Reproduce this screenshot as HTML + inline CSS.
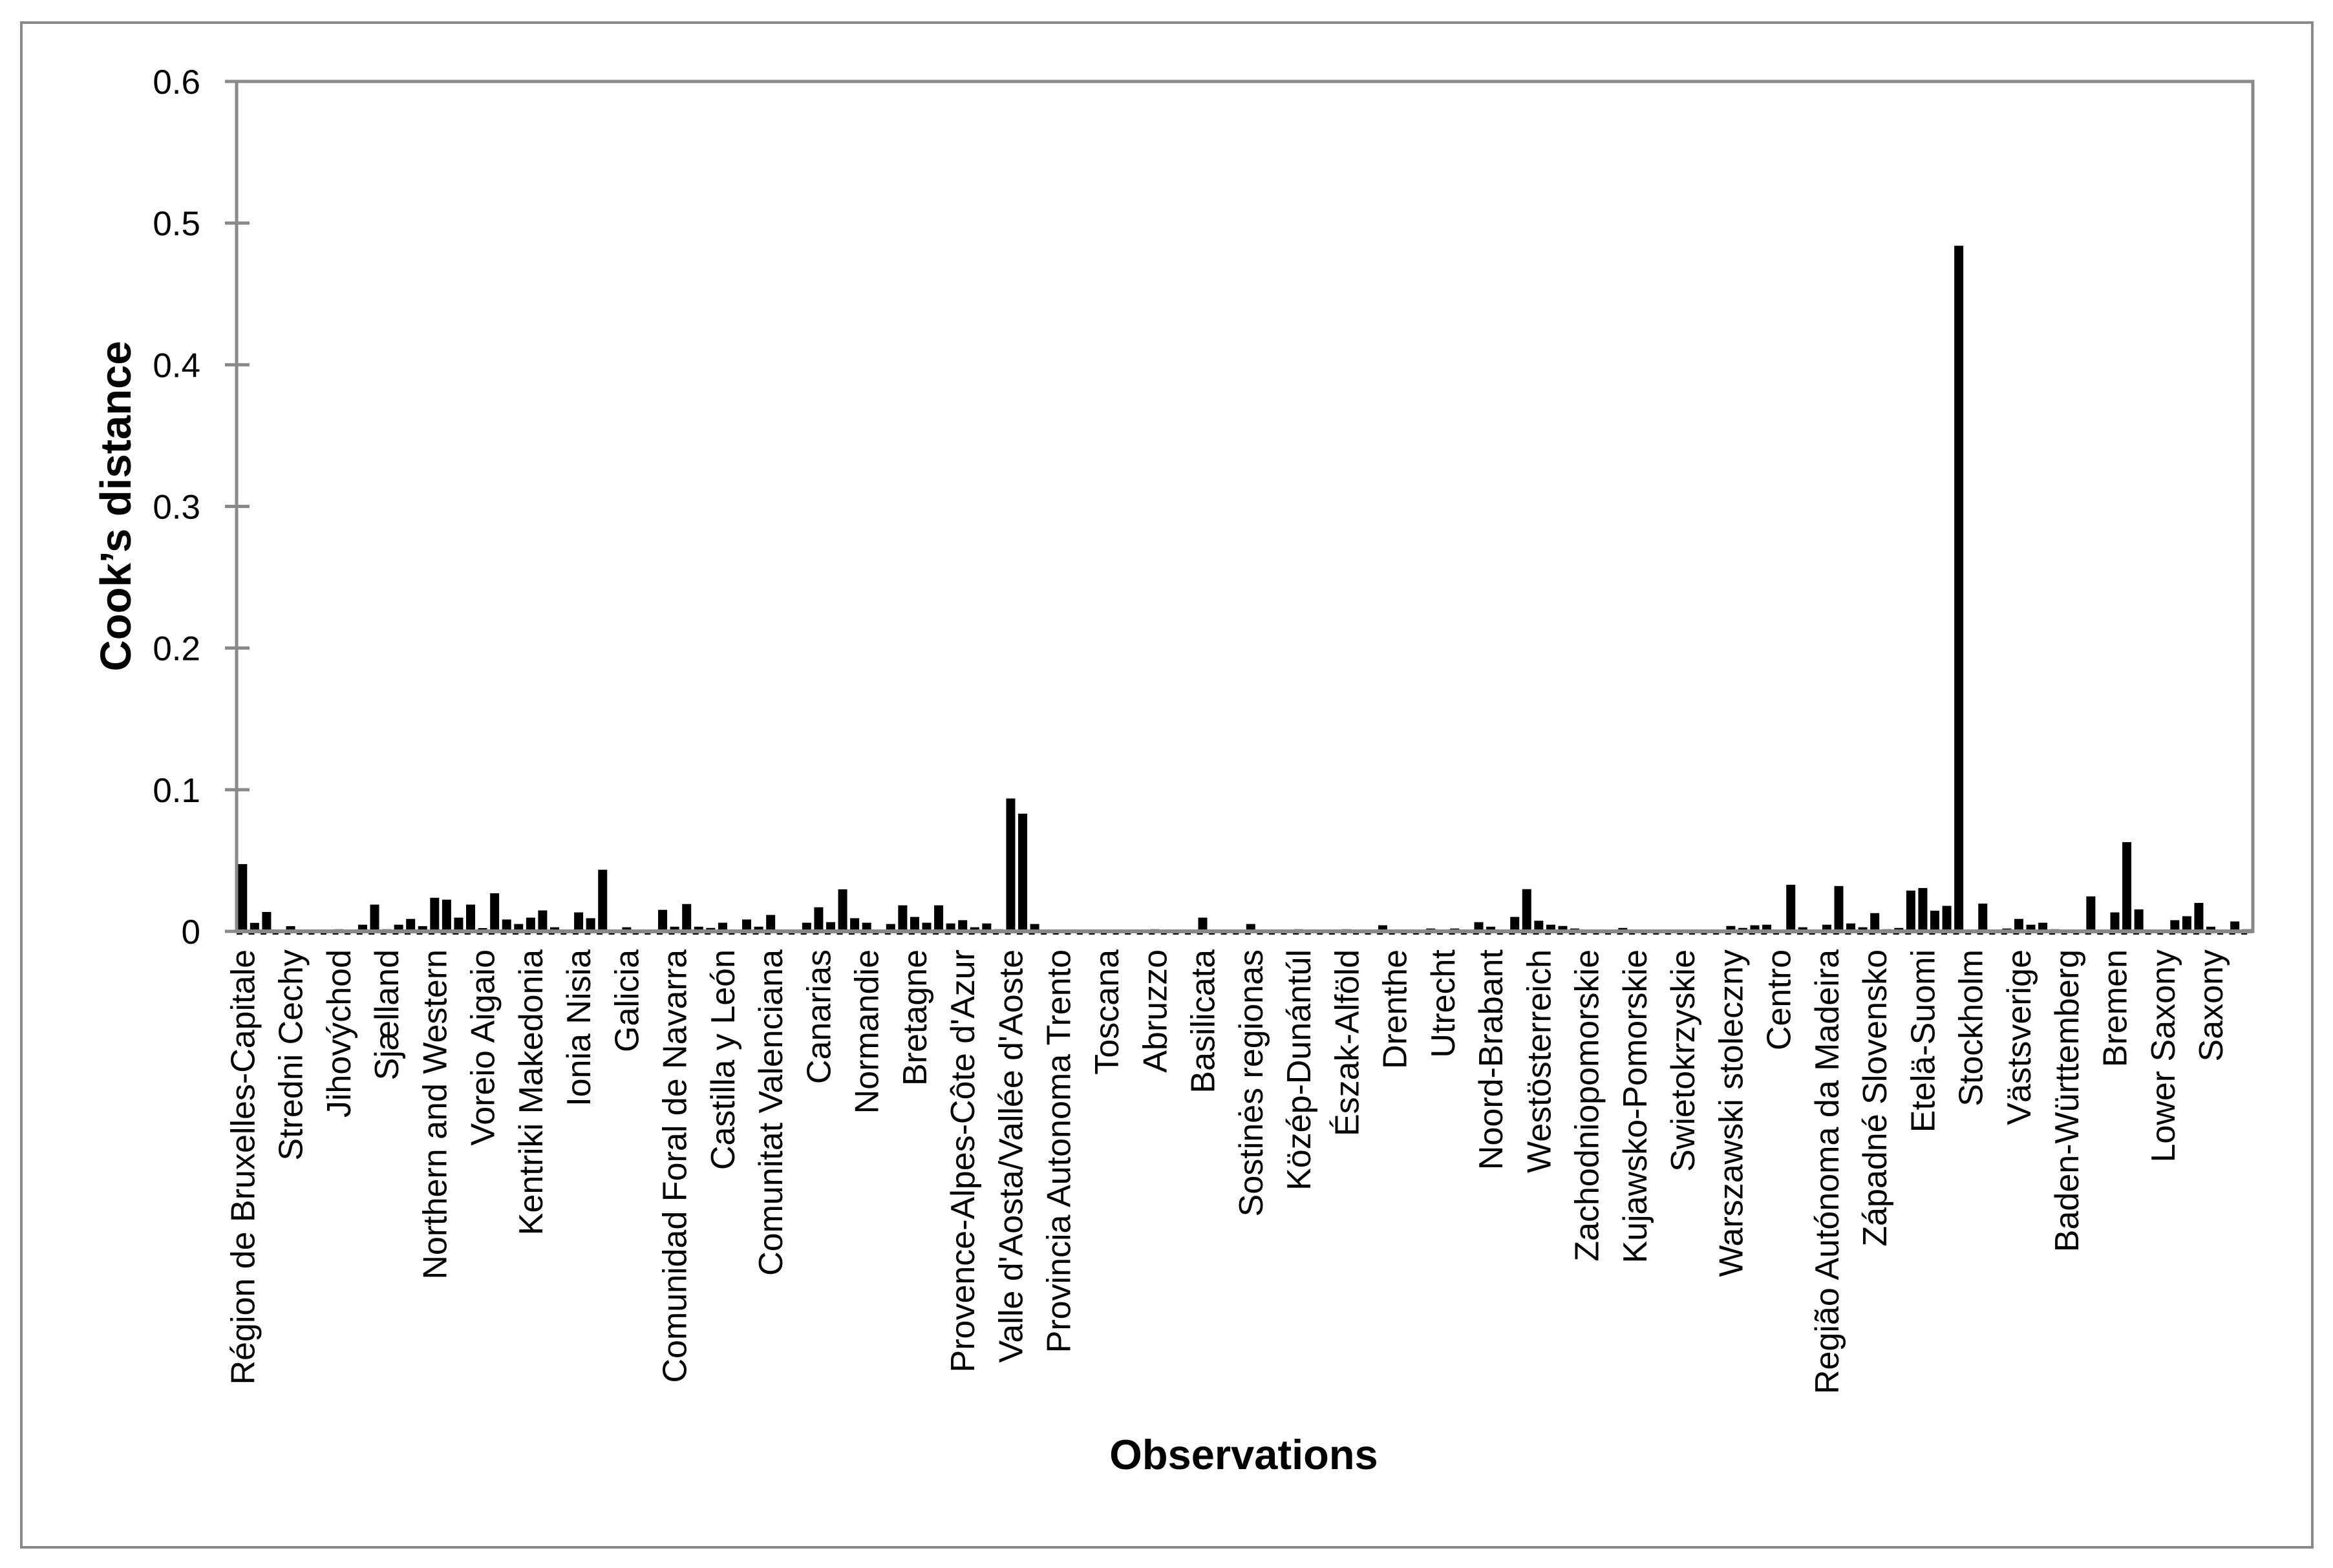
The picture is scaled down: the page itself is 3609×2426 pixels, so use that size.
<!DOCTYPE html>
<html><head><meta charset="utf-8"><style>
html,body{margin:0;padding:0;background:#fff;}
svg{display:block;font-family:"Liberation Sans",sans-serif;}
</style></head><body>
<svg id="chart" width="3609" height="2426" viewBox="0 0 3609 2426" xmlns="http://www.w3.org/2000/svg">
<rect x="33" y="35" width="3544" height="2359" fill="#fff" stroke="#898989" stroke-width="4"/>
<g id="plot"></g>
<text x="0" y="0" transform="translate(202,783) rotate(-90)" text-anchor="middle" font-weight="bold" font-size="67">Cook’s distance</text>
<text x="1924" y="2273" text-anchor="middle" font-weight="bold" font-size="65">Observations</text>
</svg>
<script>
const values = [
0.0475,0.006,0.0137,0.001,0.0037,0.001,0.0006,0.001,0.0015,0.0006,0.0047,0.0189,0.0015,0.0047,0.0088,0.0037,
0.0237,0.0224,0.0097,0.0189,0.0023,0.0269,0.0084,0.0052,0.0097,0.0148,0.0029,0.0003,0.0134,0.0093,0.0435,0.001,
0.0029,0.001,0.0002,0.0152,0.0033,0.0193,0.0033,0.0024,0.0061,0.0006,0.0084,0.0033,0.0116,0.0006,0.0006,0.0061,
0.017,0.0065,0.0297,0.0093,0.0061,0.0006,0.0052,0.0184,0.0102,0.0061,0.0184,0.0056,0.0079,0.0029,0.0056,0.0015,
0.0938,0.0831,0.0052,0.001,0.0002,0.0002,0.0006,0.0002,0.0006,0.0006,0.001,0.0002,0.0015,0.001,0.0002,0.0002,
0.0097,0.0002,0.0002,0.001,0.0052,0.0002,0.0002,0.0002,0.0015,0.0011,0.0006,0.0002,0.0015,0.0002,0.0011,0.0043,
0.0011,0.0002,0.0006,0.002,0.0002,0.002,0.0006,0.0065,0.0033,0.0006,0.0102,0.0298,0.0075,0.0047,0.0038,0.002,
0.0002,0.0002,0.0011,0.0024,0.0002,0.0002,0.0002,0.0011,0.0002,0.0006,0.0002,0.0002,0.0038,0.0024,0.0043,0.0047,
0.0002,0.0329,0.0029,0.0011,0.0047,0.032,0.0056,0.0029,0.0129,0.0015,0.0024,0.0288,0.0306,0.0146,0.018,0.484,
0.0011,0.0196,0.0002,0.002,0.0088,0.0047,0.0061,0.0015,0.0006,0.0011,0.0247,0.0002,0.0134,0.063,0.0155,0.0006,
0.0011,0.0079,0.0107,0.0201,0.0033,0.0006,0.007,0.0015];
const labels = ["Région de Bruxelles-Capitale","Stredni Cechy","Jihovýchod","Sjælland","Northern and Western","Voreio Aigaio","Kentriki Makedonia","Ionia Nisia","Galicia","Comunidad Foral de Navarra","Castilla y León","Comunitat Valenciana","Canarias","Normandie","Bretagne","Provence-Alpes-Côte d'Azur","Valle d'Aosta/Vallée d'Aoste","Provincia Autonoma Trento","Toscana","Abruzzo","Basilicata","Sostinės regionas","Közép-Dunántúl","Észak-Alföld","Drenthe","Utrecht","Noord-Brabant","Westösterreich","Zachodniopomorskie","Kujawsko-Pomorskie","Swietokrzyskie","Warszawski stoleczny","Centro","Região Autónoma da Madeira","Západné Slovensko","Etelä-Suomi","Stockholm","Västsverige","Baden-Württemberg","Bremen","Lower Saxony","Saxony"];
const yTicks = [0,0.1,0.2,0.3,0.4,0.5,0.6];
const yTickLabels = ["0","0.1","0.2","0.3","0.4","0.5","0.6"];
const labelEvery = 4;

const NS="http://www.w3.org/2000/svg";
const L=366,R=3485,T=126,B=1441,yMax=0.6;
const n=values.length, step=(R-L)/n;
const xc=i=>L+step*(i+0.5);
const y=v=>B-(v/yMax)*(B-T);
const g=document.getElementById('plot');
function mk(tag,a){const e=document.createElementNS(NS,tag);for(const k in a)e.setAttribute(k,a[k]);g.appendChild(e);return e;}
values.forEach((v,i)=>{
  const r=mk('rect',{x:xc(i)-7,y:y(v),width:14,height:Math.max(B-y(v),1),fill:'#000'});
  
  
});
const box=mk('rect',{x:L,y:T,width:R-L,height:B-T,fill:'none',stroke:'#898989','stroke-width':5});


const xa=mk('line',{x1:L,y1:B,x2:R,y2:B,stroke:'#898989','stroke-width':6});


const dash=mk('line',{x1:L,y1:B+4,x2:R,y2:B+4,stroke:'#000','stroke-width':2,'stroke-dasharray':'9 '+(step-9).toFixed(2)});


yTicks.forEach((t,i)=>{
  const ln=mk('line',{x1:348,y1:y(t),x2:386,y2:y(t),stroke:'#898989','stroke-width':5});
  
  
  const tx=mk('text',{x:310,y:y(t)+19,'text-anchor':'end','font-size':53});
  tx.textContent=yTickLabels[i];
  
  
});
labels.forEach((s,k)=>{
  const x=xc(k*labelEvery)+18;
  const tx=mk('text',{x:0,y:0,transform:`translate(${x},1469) rotate(-90)`,'text-anchor':'end','font-size':52});
  tx.textContent=s;
  
  
});
</script>
</body></html>
